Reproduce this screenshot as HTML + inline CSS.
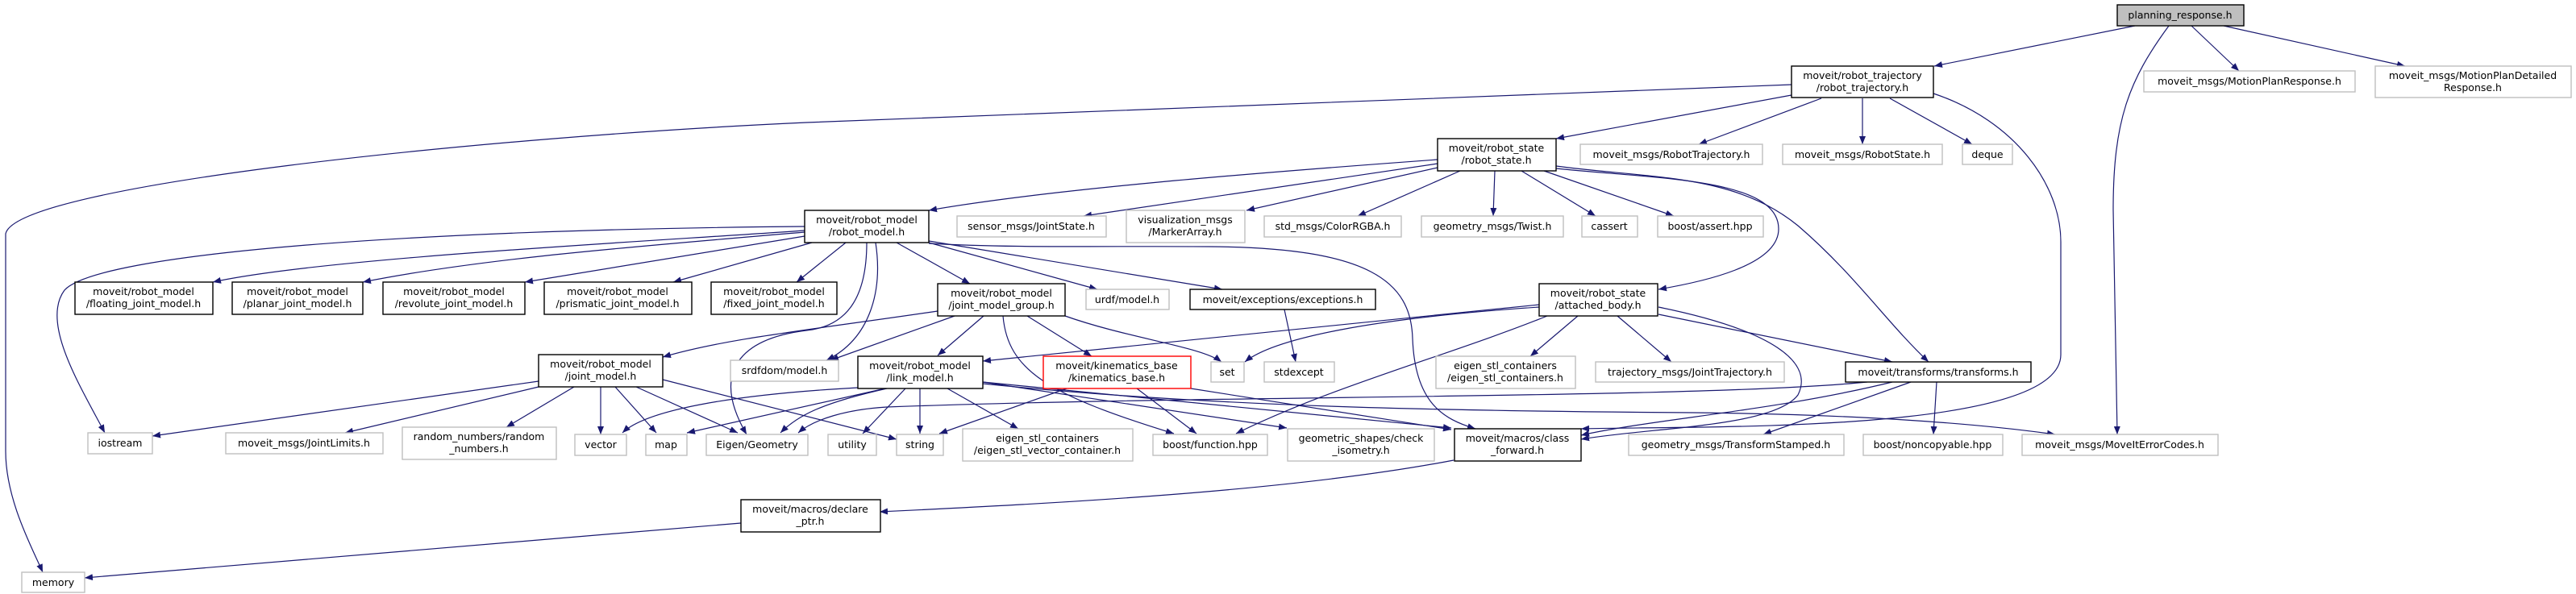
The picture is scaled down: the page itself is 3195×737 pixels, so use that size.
<!DOCTYPE html>
<html><head><meta charset="utf-8"><style>
html,body{margin:0;padding:0;background:#fff;}
svg{display:block;}
text{font-family:"DejaVu Sans","Liberation Sans",sans-serif;font-size:12.5px;fill:#000;text-anchor:middle;}
.n{fill:#fff;stroke:#000;stroke-width:1.4;}
.g{fill:#fff;stroke:#bfbfbf;stroke-width:1.4;}
.e{fill:none;stroke:#191970;stroke-width:1.2;marker-end:url(#a);}
</style></head><body>
<svg width="3195" height="737" viewBox="0 0 3195 737" xmlns="http://www.w3.org/2000/svg">
<defs><marker id="a" viewBox="0 0 10 8" refX="10" refY="4" markerWidth="10" markerHeight="8" markerUnits="userSpaceOnUse" orient="auto"><path d="M0,0 L10,4 L0,8 z" fill="#191970"/></marker></defs>
<g>
<path class="e" d="M2648,32 L2399,82"/>
<path class="e" d="M2718,32 L2777,88"/>
<path class="e" d="M2758,32 L2983,82"/>
<path class="e" d="M2690,32 C2640,100 2621,150 2621,260 L2626,539"/>
<path class="e" d="M2398,116 C2500,150 2556,230 2556,300 L2556,440 C2556,540 2100,528 1961,532"/>
<path class="e" d="M2222,118 L1930,172"/>
<path class="e" d="M2222,105 L1000,152 C600,170 20,230 7,290 L7,560 C7,620 40,680 53,710"/>
<path class="e" d="M2259,122 L2107,179"/>
<path class="e" d="M2310,122 L2310,179"/>
<path class="e" d="M2344,122 L2446,179"/>
<path class="e" d="M1783,198 C1550,215 1300,235 1152,261"/>
<path class="e" d="M1783,203 L1344,268"/>
<path class="e" d="M1783,208 L1546,261"/>
<path class="e" d="M1811,212 L1684,268"/>
<path class="e" d="M1854,212 L1852,268"/>
<path class="e" d="M1887,212 L1979,268"/>
<path class="e" d="M1915,212 L2076,268"/>
<path class="e" d="M1930,209 C2050,222 2206,220 2206,284 C2206,330 2110,350 2057,359"/>
<path class="e" d="M1930,206 C2050,222 2150,215 2230,280 C2300,340 2340,400 2392,449"/>
<path class="e" d="M998,286 C800,300 400,320 264,350"/>
<path class="e" d="M998,288 C800,305 600,320 450,350"/>
<path class="e" d="M998,293 L651,350"/>
<path class="e" d="M1007,301 L835,350"/>
<path class="e" d="M1049,301 L988,350"/>
<path class="e" d="M998,281 C500,285 120,315 80,360 C50,400 100,480 130,537"/>
<path class="e" d="M1086,301 C1095,360 1080,420 1025,447"/>
<path class="e" d="M1075,301 C1075,370 1050,405 1000,410 C920,420 880,460 926,539"/>
<path class="e" d="M1163,386 C1000,410 900,420 822,443"/>
<path class="e" d="M1112,301 L1203,352"/>
<path class="e" d="M1152,301 L1361,359"/>
<path class="e" d="M1152,299 L1516,359"/>
<path class="e" d="M1152,302 C1250,308 1380,305 1500,306 C1700,307 1750,350 1752,420 C1755,500 1790,520 1830,532"/>
<path class="e" d="M1184,392 L1030,447"/>
<path class="e" d="M1220,392 L1163,441"/>
<path class="e" d="M1274,392 L1354,442"/>
<path class="e" d="M1321,392 C1400,420 1490,430 1515,449"/>
<path class="e" d="M1244,392 C1250,460 1300,490 1456,538"/>
<path class="e" d="M1593,384 L1607,449"/>
<path class="e" d="M1909,381 C1700,395 1580,420 1544,449"/>
<path class="e" d="M1909,378 L1219,448"/>
<path class="e" d="M1957,392 L1898,442"/>
<path class="e" d="M2006,392 L2073,449"/>
<path class="e" d="M1919,392 C1800,440 1650,480 1533,538"/>
<path class="e" d="M2057,390 L2347,449"/>
<path class="e" d="M2057,381 C2200,410 2250,450 2230,490 C2200,530 2050,530 1961,545"/>
<path class="e" d="M1323,482 L1165,538"/>
<path class="e" d="M1410,482 L1484,538"/>
<path class="e" d="M1477,482 L1800,533"/>
<path class="e" d="M1064,481 C900,490 800,510 772,537"/>
<path class="e" d="M1098,482 L852,537"/>
<path class="e" d="M1100,482 C1020,500 990,515 968,537"/>
<path class="e" d="M1123,482 L1070,538"/>
<path class="e" d="M1141,482 L1141,538"/>
<path class="e" d="M1175,482 L1263,532"/>
<path class="e" d="M1219,474 L1596,531"/>
<path class="e" d="M1219,474 L1800,531"/>
<path class="e" d="M1219,476 C1500,505 1800,510 2100,512 C2300,514 2450,525 2549,539"/>
<path class="e" d="M668,473 L189,541"/>
<path class="e" d="M668,480 L428,537"/>
<path class="e" d="M712,480 L628,530"/>
<path class="e" d="M745,480 L745,539"/>
<path class="e" d="M763,480 L814,537"/>
<path class="e" d="M789,480 L915,537"/>
<path class="e" d="M822,471 L1112,545"/>
<path class="e" d="M2347,474 C2200,510 2050,520 1961,540"/>
<path class="e" d="M2370,474 L2187,539"/>
<path class="e" d="M2402,474 L2398,539"/>
<path class="e" d="M2316,474 C2100,495 1500,490 1100,505 C1050,508 1010,520 990,537"/>
<path class="e" d="M1803,571 C1600,610 1300,625 1091,635"/>
<path class="e" d="M919,649 L105,717"/>
</g>
<g>
<rect x="2626" y="6" width="157" height="26" fill="#bfbfbf" stroke="#000" stroke-width="1.4"/><text x="2704" y="23">planning_response.h</text>
<rect class="n" x="2222" y="82" width="176" height="39"/><text x="2310" y="98">moveit/robot_trajectory</text><text x="2310" y="113">/robot_trajectory.h</text>
<rect class="g" x="2659" y="88" width="262" height="26"/><text x="2790" y="105">moveit_msgs/MotionPlanResponse.h</text>
<rect class="g" x="2946" y="82" width="243" height="39"/><text x="3067" y="98">moveit_msgs/MotionPlanDetailed</text><text x="3067" y="113">Response.h</text>
<rect class="n" x="1783" y="172" width="147" height="40"/><text x="1856" y="188">moveit/robot_state</text><text x="1856" y="203">/robot_state.h</text>
<rect class="g" x="1960" y="179" width="226" height="25"/><text x="2073" y="196">moveit_msgs/RobotTrajectory.h</text>
<rect class="g" x="2211" y="179" width="198" height="25"/><text x="2310" y="196">moveit_msgs/RobotState.h</text>
<rect class="g" x="2434" y="179" width="62" height="25"/><text x="2465" y="196">deque</text>
<rect class="n" x="998" y="261" width="154" height="40"/><text x="1075" y="277">moveit/robot_model</text><text x="1075" y="292">/robot_model.h</text>
<rect class="g" x="1187" y="268" width="185" height="26"/><text x="1279" y="285">sensor_msgs/JointState.h</text>
<rect class="g" x="1397" y="261" width="147" height="40"/><text x="1470" y="277">visualization_msgs</text><text x="1470" y="292">/MarkerArray.h</text>
<rect class="g" x="1568" y="268" width="170" height="26"/><text x="1653" y="285">std_msgs/ColorRGBA.h</text>
<rect class="g" x="1763" y="268" width="176" height="26"/><text x="1851" y="285">geometry_msgs/Twist.h</text>
<rect class="g" x="1962" y="268" width="69" height="26"/><text x="1996" y="285">cassert</text>
<rect class="g" x="2056" y="268" width="131" height="26"/><text x="2121" y="285">boost/assert.hpp</text>
<rect class="n" x="93" y="350" width="171" height="40"/><text x="178" y="366">moveit/robot_model</text><text x="178" y="381">/floating_joint_model.h</text>
<rect class="n" x="288" y="350" width="162" height="40"/><text x="369" y="366">moveit/robot_model</text><text x="369" y="381">/planar_joint_model.h</text>
<rect class="n" x="475" y="350" width="176" height="40"/><text x="563" y="366">moveit/robot_model</text><text x="563" y="381">/revolute_joint_model.h</text>
<rect class="n" x="675" y="350" width="183" height="40"/><text x="766" y="366">moveit/robot_model</text><text x="766" y="381">/prismatic_joint_model.h</text>
<rect class="n" x="882" y="350" width="156" height="40"/><text x="960" y="366">moveit/robot_model</text><text x="960" y="381">/fixed_joint_model.h</text>
<rect class="n" x="1163" y="352" width="158" height="40"/><text x="1242" y="368">moveit/robot_model</text><text x="1242" y="383">/joint_model_group.h</text>
<rect class="g" x="1347" y="359" width="103" height="25"/><text x="1398" y="376">urdf/model.h</text>
<rect class="n" x="1476" y="359" width="230" height="25"/><text x="1591" y="376">moveit/exceptions/exceptions.h</text>
<rect class="n" x="1909" y="352" width="147" height="40"/><text x="1982" y="368">moveit/robot_state</text><text x="1982" y="383">/attached_body.h</text>
<rect class="n" x="668" y="440" width="154" height="40"/><text x="745" y="456">moveit/robot_model</text><text x="745" y="471">/joint_model.h</text>
<rect class="g" x="906" y="447" width="134" height="26"/><text x="973" y="464">srdfdom/model.h</text>
<rect class="n" x="1064" y="442" width="155" height="40"/><text x="1141" y="458">moveit/robot_model</text><text x="1141" y="473">/link_model.h</text>
<rect x="1294" y="442" width="183" height="40" fill="#fff" stroke="#ff0000" stroke-width="1.4"/><text x="1385" y="458">moveit/kinematics_base</text><text x="1385" y="473">/kinematics_base.h</text>
<rect class="g" x="1502" y="449" width="41" height="25"/><text x="1522" y="466">set</text>
<rect class="g" x="1568" y="449" width="87" height="25"/><text x="1611" y="466">stdexcept</text>
<rect class="g" x="1781" y="442" width="173" height="40"/><text x="1867" y="458">eigen_stl_containers</text><text x="1867" y="473">/eigen_stl_containers.h</text>
<rect class="g" x="1979" y="449" width="234" height="25"/><text x="2096" y="466">trajectory_msgs/JointTrajectory.h</text>
<rect class="n" x="2289" y="449" width="230" height="25"/><text x="2404" y="466">moveit/transforms/transforms.h</text>
<rect class="g" x="109" y="537" width="80" height="26"/><text x="149" y="554">iostream</text>
<rect class="g" x="280" y="537" width="195" height="26"/><text x="377" y="554">moveit_msgs/JointLimits.h</text>
<rect class="g" x="499" y="530" width="191" height="40"/><text x="594" y="546">random_numbers/random</text><text x="594" y="561">_numbers.h</text>
<rect class="g" x="713" y="539" width="64" height="26"/><text x="745" y="556">vector</text>
<rect class="g" x="801" y="539" width="51" height="26"/><text x="826" y="556">map</text>
<rect class="g" x="876" y="539" width="126" height="26"/><text x="939" y="556">Eigen/Geometry</text>
<rect class="g" x="1027" y="539" width="60" height="26"/><text x="1057" y="556">utility</text>
<rect class="g" x="1112" y="539" width="58" height="26"/><text x="1141" y="556">string</text>
<rect class="g" x="1194" y="532" width="211" height="40"/><text x="1299" y="548">eigen_stl_containers</text><text x="1299" y="563">/eigen_stl_vector_container.h</text>
<rect class="g" x="1430" y="539" width="142" height="26"/><text x="1501" y="556">boost/function.hpp</text>
<rect class="g" x="1597" y="532" width="182" height="40"/><text x="1688" y="548">geometric_shapes/check</text><text x="1688" y="563">_isometry.h</text>
<rect class="n" x="1804" y="532" width="157" height="40"/><text x="1882" y="548">moveit/macros/class</text><text x="1882" y="563">_forward.h</text>
<rect class="g" x="2020" y="539" width="267" height="26"/><text x="2153" y="556">geometry_msgs/TransformStamped.h</text>
<rect class="g" x="2311" y="539" width="173" height="26"/><text x="2397" y="556">boost/noncopyable.hpp</text>
<rect class="g" x="2508" y="539" width="243" height="26"/><text x="2629" y="556">moveit_msgs/MoveItErrorCodes.h</text>
<rect class="n" x="919" y="620" width="173" height="40"/><text x="1005" y="636">moveit/macros/declare</text><text x="1005" y="651">_ptr.h</text>
<rect class="g" x="27" y="710" width="78" height="25"/><text x="66" y="727">memory</text>
</g>
</svg>
</body></html>
